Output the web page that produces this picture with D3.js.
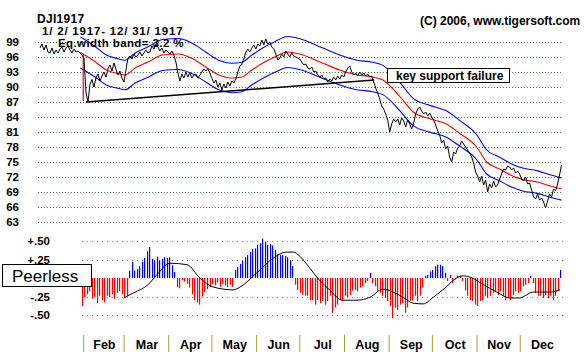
<!DOCTYPE html>
<html>
<head>
<meta charset="utf-8">
<script src="https://cdn.jsdelivr.net/npm/d3@7"></script>
<style>
body { margin: 0; background: #fff; }
text { font-family: "Liberation Sans", Arial, sans-serif; }
</style>
</head>
<body>
<script>
const width = 587, height = 352;
const parse = d3.timeParse("%Y-%m-%d");

// DJI daily closes, evenly spaced from first to last date
const priceFirst = "1917-01-02", priceLast = "1917-12-30";
const closes = [
    97.8,98.6,97.4,98.4,97.0,96.8,97.8,96.6,97.4,96.8,97.6,98.0,97.0,97.8,98.2,97.4,96.8,97.6,97.0,97.2,
    96.8,96.4,95.8,89.0,87.0,90.5,91.5,90.0,91.8,92.6,91.2,92.2,93.0,92.0,93.6,94.4,93.2,94.8,93.6,92.4,
    93.2,91.8,91.0,93.4,95.8,96.2,95.6,96.6,96.0,96.4,97.0,96.2,96.8,97.4,96.8,97.0,98.2,97.6,98.6,98.0,
    97.2,97.8,96.8,97.4,97.0,96.6,97.2,96.4,95.0,92.8,91.2,92.6,91.8,93.0,92.0,92.8,91.8,92.4,92.6,91.8,
    92.4,93.0,93.6,93.2,93.6,92.8,91.8,90.8,91.4,90.0,90.8,89.4,90.6,89.8,91.0,90.2,91.2,90.8,91.6,93.0,
    94.2,94.6,95.6,97.0,97.6,97.0,97.8,98.4,97.6,98.6,98.2,99.4,98.4,99.6,98.6,99.0,98.0,97.6,96.6,95.4,
    95.8,96.6,96.0,97.2,96.6,96.0,96.8,96.2,96.0,95.8,95.6,95.0,94.4,94.6,93.8,93.6,94.0,93.0,93.2,92.4,
    92.0,92.4,91.6,91.8,91.0,91.6,91.2,92.0,91.4,92.2,91.6,92.4,92.0,93.0,93.8,94.2,93.0,92.4,92.8,92.2,
    93.0,92.4,92.8,92.2,92.6,92.0,92.2,91.0,89.8,88.8,87.6,86.2,85.6,84.6,83.4,81.0,82.6,83.6,83.0,83.6,
    82.4,83.8,83.2,82.0,83.4,82.6,81.6,82.8,84.6,85.6,86.0,85.2,84.6,85.0,84.2,84.8,84.0,83.4,82.4,81.2,
    80.4,78.8,79.4,77.6,78.2,76.0,75.0,77.0,76.6,77.8,78.2,79.2,78.6,78.0,77.4,76.8,76.0,74.8,73.0,72.2,
    71.0,72.2,70.4,71.4,69.0,70.6,69.8,71.2,70.0,70.4,71.6,72.6,73.6,73.4,74.2,74.0,73.4,73.8,72.8,73.2,
    72.6,71.6,71.2,72.0,70.6,70.8,69.4,68.0,67.6,68.6,67.4,67.8,67.0,65.8,67.2,68.6,68.0,69.6,69.2,70.6,
    72.4,74.4
];

// red moving average (bands are +/- bandPct around it)
const maDates = ["1917-01-30","1917-02-02","1917-02-09","1917-02-17","1917-02-25","1917-03-02","1917-03-09",
    "1917-03-18","1917-03-28","1917-04-08","1917-04-17","1917-04-27","1917-05-06","1917-05-15","1917-05-22",
    "1917-05-29","1917-06-07","1917-06-14","1917-06-23","1917-07-01","1917-07-17","1917-07-29","1917-08-10",
    "1917-08-21","1917-08-28","1917-09-09","1917-09-18","1917-09-30","1917-10-11","1917-10-20","1917-11-01",
    "1917-11-08","1917-11-17","1917-11-26","1917-12-03","1917-12-13","1917-12-22","1917-12-30"];
const maValues = [96.9,96.4,95.1,93.4,92.7,92.4,93.8,95.0,96.4,96.6,95.8,94.0,92.4,91.8,92.0,93.4,95.0,96.0,
    97.0,96.6,94.8,93.4,92.4,92.0,91.4,88.0,85.0,83.6,82.6,80.8,78.0,75.0,73.6,72.2,71.5,71.0,70.2,69.6];
const bandPct = 3.2;

const supportDates = ["1917-02-03", "1917-08-22"];
const supportValues = [87.0, 91.4];
const redDropDates = ["1917-02-01", "1917-02-01"];
const redDropValues = [96.4, 87.2];

// Peerless indicator bars, evenly spaced
const barFirst = "1917-01-31", barLast = "1917-12-29";
const peerless = [
    -0.38,-0.26,-0.22,-0.18,-0.28,-0.26,-0.34,-0.24,-0.30,-0.33,-0.24,-0.26,-0.22,-0.28,-0.20,-0.18,-0.22,-0.26,-0.24,0.10,
    0.22,0.10,0.12,0.16,0.22,0.27,0.36,0.42,0.26,0.24,0.29,0.24,0.26,0.28,0.27,0.28,0.17,0.08,-0.12,-0.14,
    -0.03,-0.05,-0.08,-0.13,-0.22,-0.30,-0.33,-0.36,-0.25,-0.19,-0.15,-0.12,-0.08,-0.10,-0.06,-0.12,-0.08,-0.10,-0.12,-0.09,
    -0.12,0.11,0.15,0.19,0.23,0.28,0.31,0.35,0.39,0.40,0.45,0.47,0.53,0.49,0.45,0.46,0.44,0.38,0.32,0.31,
    0.31,0.30,0.28,0.24,0.16,-0.09,-0.16,-0.20,-0.23,-0.24,-0.24,-0.30,-0.30,-0.36,-0.30,-0.34,-0.31,-0.36,-0.31,-0.24,
    -0.47,-0.40,-0.36,-0.30,-0.31,-0.24,-0.26,-0.23,-0.17,-0.16,-0.18,-0.13,-0.11,-0.07,-0.04,0.07,-0.07,-0.11,-0.17,-0.20,
    -0.24,-0.27,-0.31,-0.38,-0.54,-0.40,-0.43,-0.36,-0.34,-0.47,-0.40,-0.31,-0.30,-0.24,-0.31,-0.24,-0.13,0.03,0.04,0.09,
    0.11,0.16,0.18,0.18,0.16,0.07,-0.04,0.04,-0.07,-0.02,0.03,0.03,-0.04,-0.17,-0.24,-0.30,-0.31,-0.36,-0.38,-0.31,
    -0.30,-0.24,-0.27,-0.24,-0.20,-0.18,-0.23,-0.18,-0.24,-0.30,-0.27,-0.30,-0.23,-0.18,-0.20,-0.18,-0.11,-0.09,-0.07,0.03,
    -0.07,-0.20,-0.24,-0.24,-0.27,-0.23,-0.27,-0.24,-0.30,-0.24,-0.16,0.11
];

// black smoothing line on the Peerless panel
const peerMaDates = ["1917-03-01","1917-03-08","1917-03-18","1917-03-24","1917-04-02","1917-04-14","1917-04-23",
    "1917-05-02","1917-05-16","1917-05-21","1917-06-02","1917-06-13","1917-06-22","1917-06-27","1917-07-01",
    "1917-07-08","1917-07-15","1917-07-22","1917-07-31","1917-08-10","1917-08-19","1917-08-28","1917-09-04",
    "1917-09-11","1917-09-18","1917-09-25","1917-10-02","1917-10-11","1917-10-18","1917-10-23","1917-10-29",
    "1917-11-05","1917-11-15","1917-11-24","1917-12-01","1917-12-10","1917-12-22","1917-12-29"];
const peerMaValues = [-0.27,-0.20,-0.09,0.04,0.20,0.18,0.0,-0.12,-0.16,-0.12,0.08,0.27,0.35,0.35,0.30,0.14,-0.03,
    -0.16,-0.30,-0.30,-0.26,-0.15,-0.19,-0.26,-0.34,-0.35,-0.26,-0.12,0.0,0.03,0.0,-0.08,-0.19,-0.27,-0.27,-0.19,-0.19,-0.16];

const priceTicks = [99, 96, 93, 90, 87, 84, 81, 78, 75, 72, 69, 66, 63];
const peerTicks = [0.5, 0.25, -0.25, -0.5];
const peerTickLabels = ["+.50", "+.25", "-.25", "-.50"];
const monthNames = ["Feb","Mar","Apr","May","Jun","Jul","Aug","Sep","Oct","Nov","Dec"];
const monthStarts = ["1917-02-01","1917-03-01","1917-04-01","1917-05-01","1917-06-01","1917-07-01",
    "1917-08-01","1917-09-01","1917-10-01","1917-11-01","1917-12-01","1918-01-01"];

const svg = d3.select("body")
    .append("svg")
    .attr("width", width)
    .attr("height", height);

const x = d3.scaleTime()
    .domain([parse("1917-01-02"), parse("1917-12-31")])
    .range([40, 563]);
const y = d3.scaleLinear().domain([63, 99]).range([222, 42]);
const yp = d3.scaleLinear().domain([-0.5, 0.5]).range([315, 241]);

function spread(first, last, n) {
    const t0 = parse(first).getTime(), t1 = parse(last).getTime();
    return d3.range(n).map(i => new Date(t0 + i * (t1 - t0) / (n - 1)));
}

// price grid + labels
svg.append("g")
    .selectAll("line")
    .data(priceTicks)
    .enter()
    .append("line")
    .attr("x1", 38).attr("x2", 563)
    .attr("y1", d => Math.round(y(d)) + 0.5)
    .attr("y2", d => Math.round(y(d)) + 0.5)
    .attr("stroke", "#2f8a2f")
    .attr("stroke-dasharray", "1,2");

const yAxis = svg.append("g")
    .attr("transform", "translate(19,0)")
    .call(d3.axisLeft(y).tickValues(priceTicks).tickSize(0).tickPadding(0).tickFormat(d3.format("d")));
yAxis.select(".domain").remove();
yAxis.selectAll("text")
    .attr("font-family", "Liberation Sans, Arial, sans-serif")
    .attr("font-size", 11.5).attr("font-weight", "bold").attr("fill", "#000");

// Peerless grid + labels
const peerGridColors = ["#b47888", "#666", "#b47888", "#666"];
svg.append("g")
    .selectAll("line")
    .data(peerTicks)
    .enter()
    .append("line")
    .attr("x1", 82).attr("x2", 565)
    .attr("y1", d => Math.round(yp(d)) + 0.5)
    .attr("y2", d => Math.round(yp(d)) + 0.5)
    .attr("stroke", (d, i) => peerGridColors[i])
    .attr("stroke-dasharray", "1,4");

const ypAxis = svg.append("g")
    .attr("transform", "translate(50,0)")
    .call(d3.axisLeft(yp).tickValues(peerTicks).tickSize(0).tickPadding(0)
        .tickFormat((d, i) => peerTickLabels[i]));
ypAxis.select(".domain").remove();
ypAxis.selectAll("text")
    .attr("font-family", "Liberation Sans, Arial, sans-serif")
    .attr("font-size", 11.5).attr("font-weight", "bold").attr("fill", "#000");

// bands and moving average
const maData = maDates.map((d, i) => ({ date: parse(d), v: maValues[i] }));
const line = d3.line().x(d => x(d.date)).y(d => y(d.v)).curve(d3.curveMonotoneX);

svg.append("path")
    .datum(maData.map(d => ({ date: d.date, v: d.v * (1 + bandPct / 100) })))
    .attr("d", line)
    .attr("fill", "none").attr("stroke", "#0000ff").attr("stroke-width", 1.1);
svg.append("path")
    .datum(maData.map(d => ({ date: d.date, v: d.v * (1 - bandPct / 100) })))
    .attr("d", line)
    .attr("fill", "none").attr("stroke", "#0000ff").attr("stroke-width", 1.1);
svg.append("path")
    .datum(maData)
    .attr("d", line)
    .attr("fill", "none").attr("stroke", "#ff0000").attr("stroke-width", 1.1);

svg.append("path")
    .datum(redDropDates.map((d, i) => ({ date: parse(d), v: redDropValues[i] })))
    .attr("d", d3.line().x(d => x(d.date)).y(d => y(d.v)))
    .attr("fill", "none").attr("stroke", "#ff0000").attr("stroke-width", 1.2);

// support line
svg.append("path")
    .datum(supportDates.map((d, i) => ({ date: parse(d), v: supportValues[i] })))
    .attr("d", d3.line().x(d => x(d.date)).y(d => y(d.v)))
    .attr("fill", "none").attr("stroke", "#000").attr("stroke-width", 1.4);

// price line
const priceDates = spread(priceFirst, priceLast, closes.length);
svg.append("path")
    .datum(closes.map((v, i) => ({ date: priceDates[i], v: v })))
    .attr("d", d3.line().x(d => x(d.date)).y(d => y(d.v)))
    .attr("fill", "none").attr("stroke", "#000").attr("stroke-width", 1);

// key support failure label
svg.append("rect")
    .attr("x", 387.5).attr("y", 68.5).attr("width", 122).attr("height", 14)
    .attr("fill", "#fff").attr("stroke", "#000");
svg.append("text")
    .attr("x", 396).attr("y", 80)
    .attr("font-size", 12).attr("font-weight", "bold")
    .text("key support failure");

// Peerless bars
const barDates = spread(barFirst, barLast, peerless.length);
svg.append("g")
    .selectAll("rect")
    .data(peerless)
    .enter()
    .append("rect")
    .attr("x", (d, i) => Math.round(x(barDates[i])))
    .attr("width", 1.2)
    .attr("y", d => d > 0 ? yp(d) : yp(0))
    .attr("height", d => Math.abs(yp(d) - yp(0)))
    .attr("fill", d => d > 0 ? "#0000ff" : "#ff0000");

svg.append("path")
    .datum(peerMaDates.map((d, i) => ({ date: parse(d), v: peerMaValues[i] })))
    .attr("d", d3.line().x(d => x(d.date)).y(d => yp(d.v)).curve(d3.curveMonotoneX))
    .attr("fill", "none").attr("stroke", "#000").attr("stroke-width", 1);

// Peerless box
svg.append("rect")
    .attr("x", 2.5).attr("y", 264.5).attr("width", 89).attr("height", 22)
    .attr("fill", "#fff").attr("stroke", "#000");
svg.append("text")
    .attr("x", 12).attr("y", 282)
    .attr("font-size", 17)
    .text("Peerless");

// month separators and labels
const monthAxis = svg.append("g")
    .attr("transform", "translate(0,335)")
    .call(d3.axisBottom(x).tickValues(monthStarts.slice(0, 11).map(parse)).tickSize(17).tickFormat(""));
monthAxis.select(".domain").remove();
monthAxis.selectAll("line").attr("stroke", "#a0a030");

svg.append("g")
    .selectAll("text")
    .data(monthNames)
    .enter()
    .append("text")
    .attr("x", (d, i) => (x(parse(monthStarts[i])) + Math.min(563, x(parse(monthStarts[i + 1])))) / 2 + 1)
    .attr("y", 349)
    .attr("text-anchor", "middle")
    .attr("font-size", 12.5).attr("font-weight", "bold")
    .text(d => d);

// titles
const titles = [
    { t: "DJI1917", x: 37, y: 23, s: 12, ls: 0.3 },
    { t: "1/ 2/ 1917- 12/ 31/ 1917", x: 42, y: 35, s: 11.5, ls: 0.8 },
    { t: "Eq.width band= 3.2 %", x: 58, y: 47, s: 11.5, ls: 0.4 },
    { t: "(C) 2006, www.tigersoft.com", x: 420, y: 25, s: 12, ls: 0 }
];
svg.append("g")
    .selectAll("text")
    .data(titles)
    .enter()
    .append("text")
    .attr("x", d => d.x).attr("y", d => d.y)
    .attr("font-size", d => d.s).attr("font-weight", "bold")
    .attr("letter-spacing", d => d.ls)
    .text(d => d.t);
</script>
</body>
</html>
